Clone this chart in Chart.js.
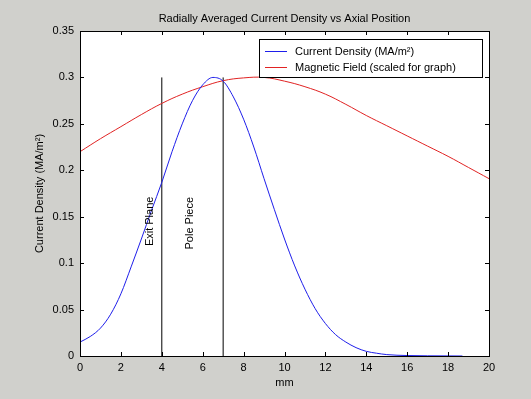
<!DOCTYPE html>
<html>
<head>
<meta charset="utf-8">
<script src="https://cdn.jsdelivr.net/npm/chart.js@4"></script>
<style>
  body { margin: 0; background: #d0d0cc; }
</style>
</head>
<body>
<canvas id="myChart" width="531" height="399"></canvas>
<script>
// values
const positionsMm = [0, 0.5, 1, 1.5, 2, 2.5, 3, 3.5, 4, 4.5, 5, 5.5, 6, 6.5, 7, 7.5, 8, 8.5, 9, 9.5,
  10, 10.5, 11, 11.5, 12, 12.5, 13, 13.5, 14, 14.5, 15, 16, 17, 18, 18.7];
const currentDensity = [0.015, 0.021, 0.030, 0.045, 0.067, 0.096, 0.126, 0.157, 0.187, 0.220, 0.250, 0.275, 0.292, 0.300,
  0.296, 0.279, 0.255, 0.225, 0.191, 0.158, 0.126, 0.097, 0.072, 0.051, 0.035, 0.023, 0.015, 0.009, 0.005, 0.003,
  0.0015, 0.0005, 0.0002, 0.0001, 0];

const fieldPositionsMm = [0, 1, 2, 3, 4, 5, 6, 7, 8, 9, 10, 11, 12, 13, 14, 15, 16, 17, 18, 19, 20];
const magneticField = [0.220, 0.234, 0.247, 0.260, 0.272, 0.282, 0.290, 0.2965, 0.2995, 0.300, 0.296, 0.290,
  0.282, 0.271, 0.259, 0.248, 0.237, 0.226, 0.215, 0.203, 0.191];

const exitPlaneMm = 4;
const polePieceMm = 7;
const markerTop = 0.3;

const xTicks = [0, 2, 4, 6, 8, 10, 12, 14, 16, 18, 20];
const yTicks = [0, 0.05, 0.1, 0.15, 0.2, 0.25, 0.3, 0.35];

const chartTitle = "Radially Averaged Current Density vs Axial Position";
const seriesLabels = ["Current Density (MA/m²)", "Magnetic Field (scaled for graph)"];
const BLUE = "rgb(30, 30, 235)";
const RED = "rgb(225, 35, 35)";
const FONT = "'Liberation Sans', Arial, sans-serif";

window.onload = () => {
  const ctx = document.querySelector("#myChart").getContext("2d");

  const toPoints = (xs, ys) => xs.map((x, i) => ({ x: x, y: ys[i] }));

  // grey figure, white axes, box with inward ticks, title, notes and legend
  const framePlugin = {
    id: "frame",
    beforeDraw(chart) {
      const c = chart.ctx;
      const a = chart.chartArea;
      c.save();
      c.fillStyle = "#d0d0cc";
      c.fillRect(0, 0, chart.width, chart.height);
      c.fillStyle = "#ffffff";
      c.fillRect(a.left, a.top, a.right - a.left, a.bottom - a.top);
      c.fillStyle = "#000000";
      c.font = "11px " + FONT;
      c.textAlign = "center";
      c.textBaseline = "middle";
      c.fillText(chartTitle, (a.left + a.right) / 2, 19);
      c.restore();
    },
    afterDatasetsDraw(chart) {
      const c = chart.ctx;
      const a = chart.chartArea;
      const xs = chart.scales.x;
      const ys = chart.scales.y;
      c.save();
      c.strokeStyle = "#000000";
      c.lineWidth = 1;
      c.strokeRect(Math.round(a.left) + 0.5, Math.round(a.top) + 0.5,
        Math.round(a.right - a.left), Math.round(a.bottom - a.top));
      c.beginPath();
      xTicks.forEach(t => {
        const px = Math.round(xs.getPixelForValue(t)) + 0.5;
        c.moveTo(px, a.bottom); c.lineTo(px, a.bottom - 4);
        c.moveTo(px, a.top); c.lineTo(px, a.top + 4);
      });
      yTicks.forEach(t => {
        const py = Math.round(ys.getPixelForValue(t)) + 0.5;
        c.moveTo(a.left, py); c.lineTo(a.left + 4, py);
        c.moveTo(a.right, py); c.lineTo(a.right - 4, py);
      });
      c.stroke();

      // rotated notes next to the marker lines
      c.fillStyle = "#000000";
      c.font = "11px " + FONT;
      c.textAlign = "center";
      c.textBaseline = "middle";
      [["Exit Plane", 3.42, 0.145], ["Pole Piece", 5.38, 0.143]].forEach(([txt, x, y]) => {
        c.save();
        c.translate(xs.getPixelForValue(x), ys.getPixelForValue(y));
        c.rotate(-Math.PI / 2);
        c.fillText(txt, 0, 0);
        c.restore();
      });

      // legend box inside the axes
      const lx = 259, ly = 39, lw = 223, lh = 38;
      c.fillStyle = "#ffffff";
      c.fillRect(lx, ly, lw, lh);
      c.strokeStyle = "#000000";
      c.strokeRect(lx + 0.5, ly + 0.5, lw, lh);
      const colors = [BLUE, RED];
      seriesLabels.forEach((label, i) => {
        const y = ly + 12 + i * 16;
        c.beginPath();
        c.strokeStyle = colors[i];
        c.lineWidth = 1;
        c.moveTo(lx + 6, y + 0.5);
        c.lineTo(lx + 28, y + 0.5);
        c.stroke();
        c.fillStyle = "#000000";
        c.textAlign = "left";
        c.fillText(label, lx + 36, y + 1);
      });
      c.restore();
    }
  };

  new Chart(ctx, {
    type: "line",
    data: {
      datasets: [
        {
          label: seriesLabels[0],
          data: toPoints(positionsMm, currentDensity),
          borderColor: BLUE,
          borderWidth: 1,
          pointRadius: 0,
          cubicInterpolationMode: "monotone",
        },
        {
          label: seriesLabels[1],
          data: toPoints(fieldPositionsMm, magneticField),
          borderColor: RED,
          borderWidth: 1,
          pointRadius: 0,
          tension: 0.4,
        },
        {
          label: "Exit Plane",
          data: [{ x: exitPlaneMm, y: 0 }, { x: exitPlaneMm, y: markerTop }],
          borderColor: "#000000",
          borderWidth: 1,
          pointRadius: 0,
        },
        {
          label: "Pole Piece",
          data: [{ x: polePieceMm, y: 0 }, { x: polePieceMm, y: markerTop }],
          borderColor: "#000000",
          borderWidth: 1,
          pointRadius: 0,
        },
      ],
    },
    options: {
      responsive: false,
      animation: false,
      layout: { padding: { left: 0, right: 42, top: 31, bottom: 0 } },
      plugins: {
        legend: { display: false },
        tooltip: { enabled: false },
      },
      scales: {
        x: {
          type: "linear",
          min: 0,
          max: 20,
          afterFit: (scale) => { scale.height = 43; },
          afterBuildTicks: (scale) => { scale.ticks = xTicks.map(v => ({ value: v })); },
          grid: { display: false, drawTicks: false },
          border: { display: false },
          ticks: { color: "#000000", padding: 5, maxRotation: 0, font: { family: FONT, size: 11 } },
          title: {
            display: true,
            text: "mm",
            color: "#000000",
            font: { family: FONT, size: 11 },
            padding: { top: 9, bottom: 9 },
          },
        },
        y: {
          min: 0,
          max: 0.35,
          afterFit: (scale) => { scale.width = 80; },
          afterBuildTicks: (scale) => { scale.ticks = yTicks.map(v => ({ value: v })); },
          grid: { display: false, drawTicks: false },
          border: { display: false },
          ticks: {
            color: "#000000",
            padding: 6,
            font: { family: FONT, size: 11 },
            callback: (v) => String(+v.toFixed(2)),
          },
          title: {
            display: true,
            text: "Current Density (MA/m²)",
            color: "#000000",
            font: { family: FONT, size: 11 },
            padding: { top: 33, bottom: 33 },
          },
        },
      },
    },
    plugins: [framePlugin],
  });
};
</script>
</body>
</html>
